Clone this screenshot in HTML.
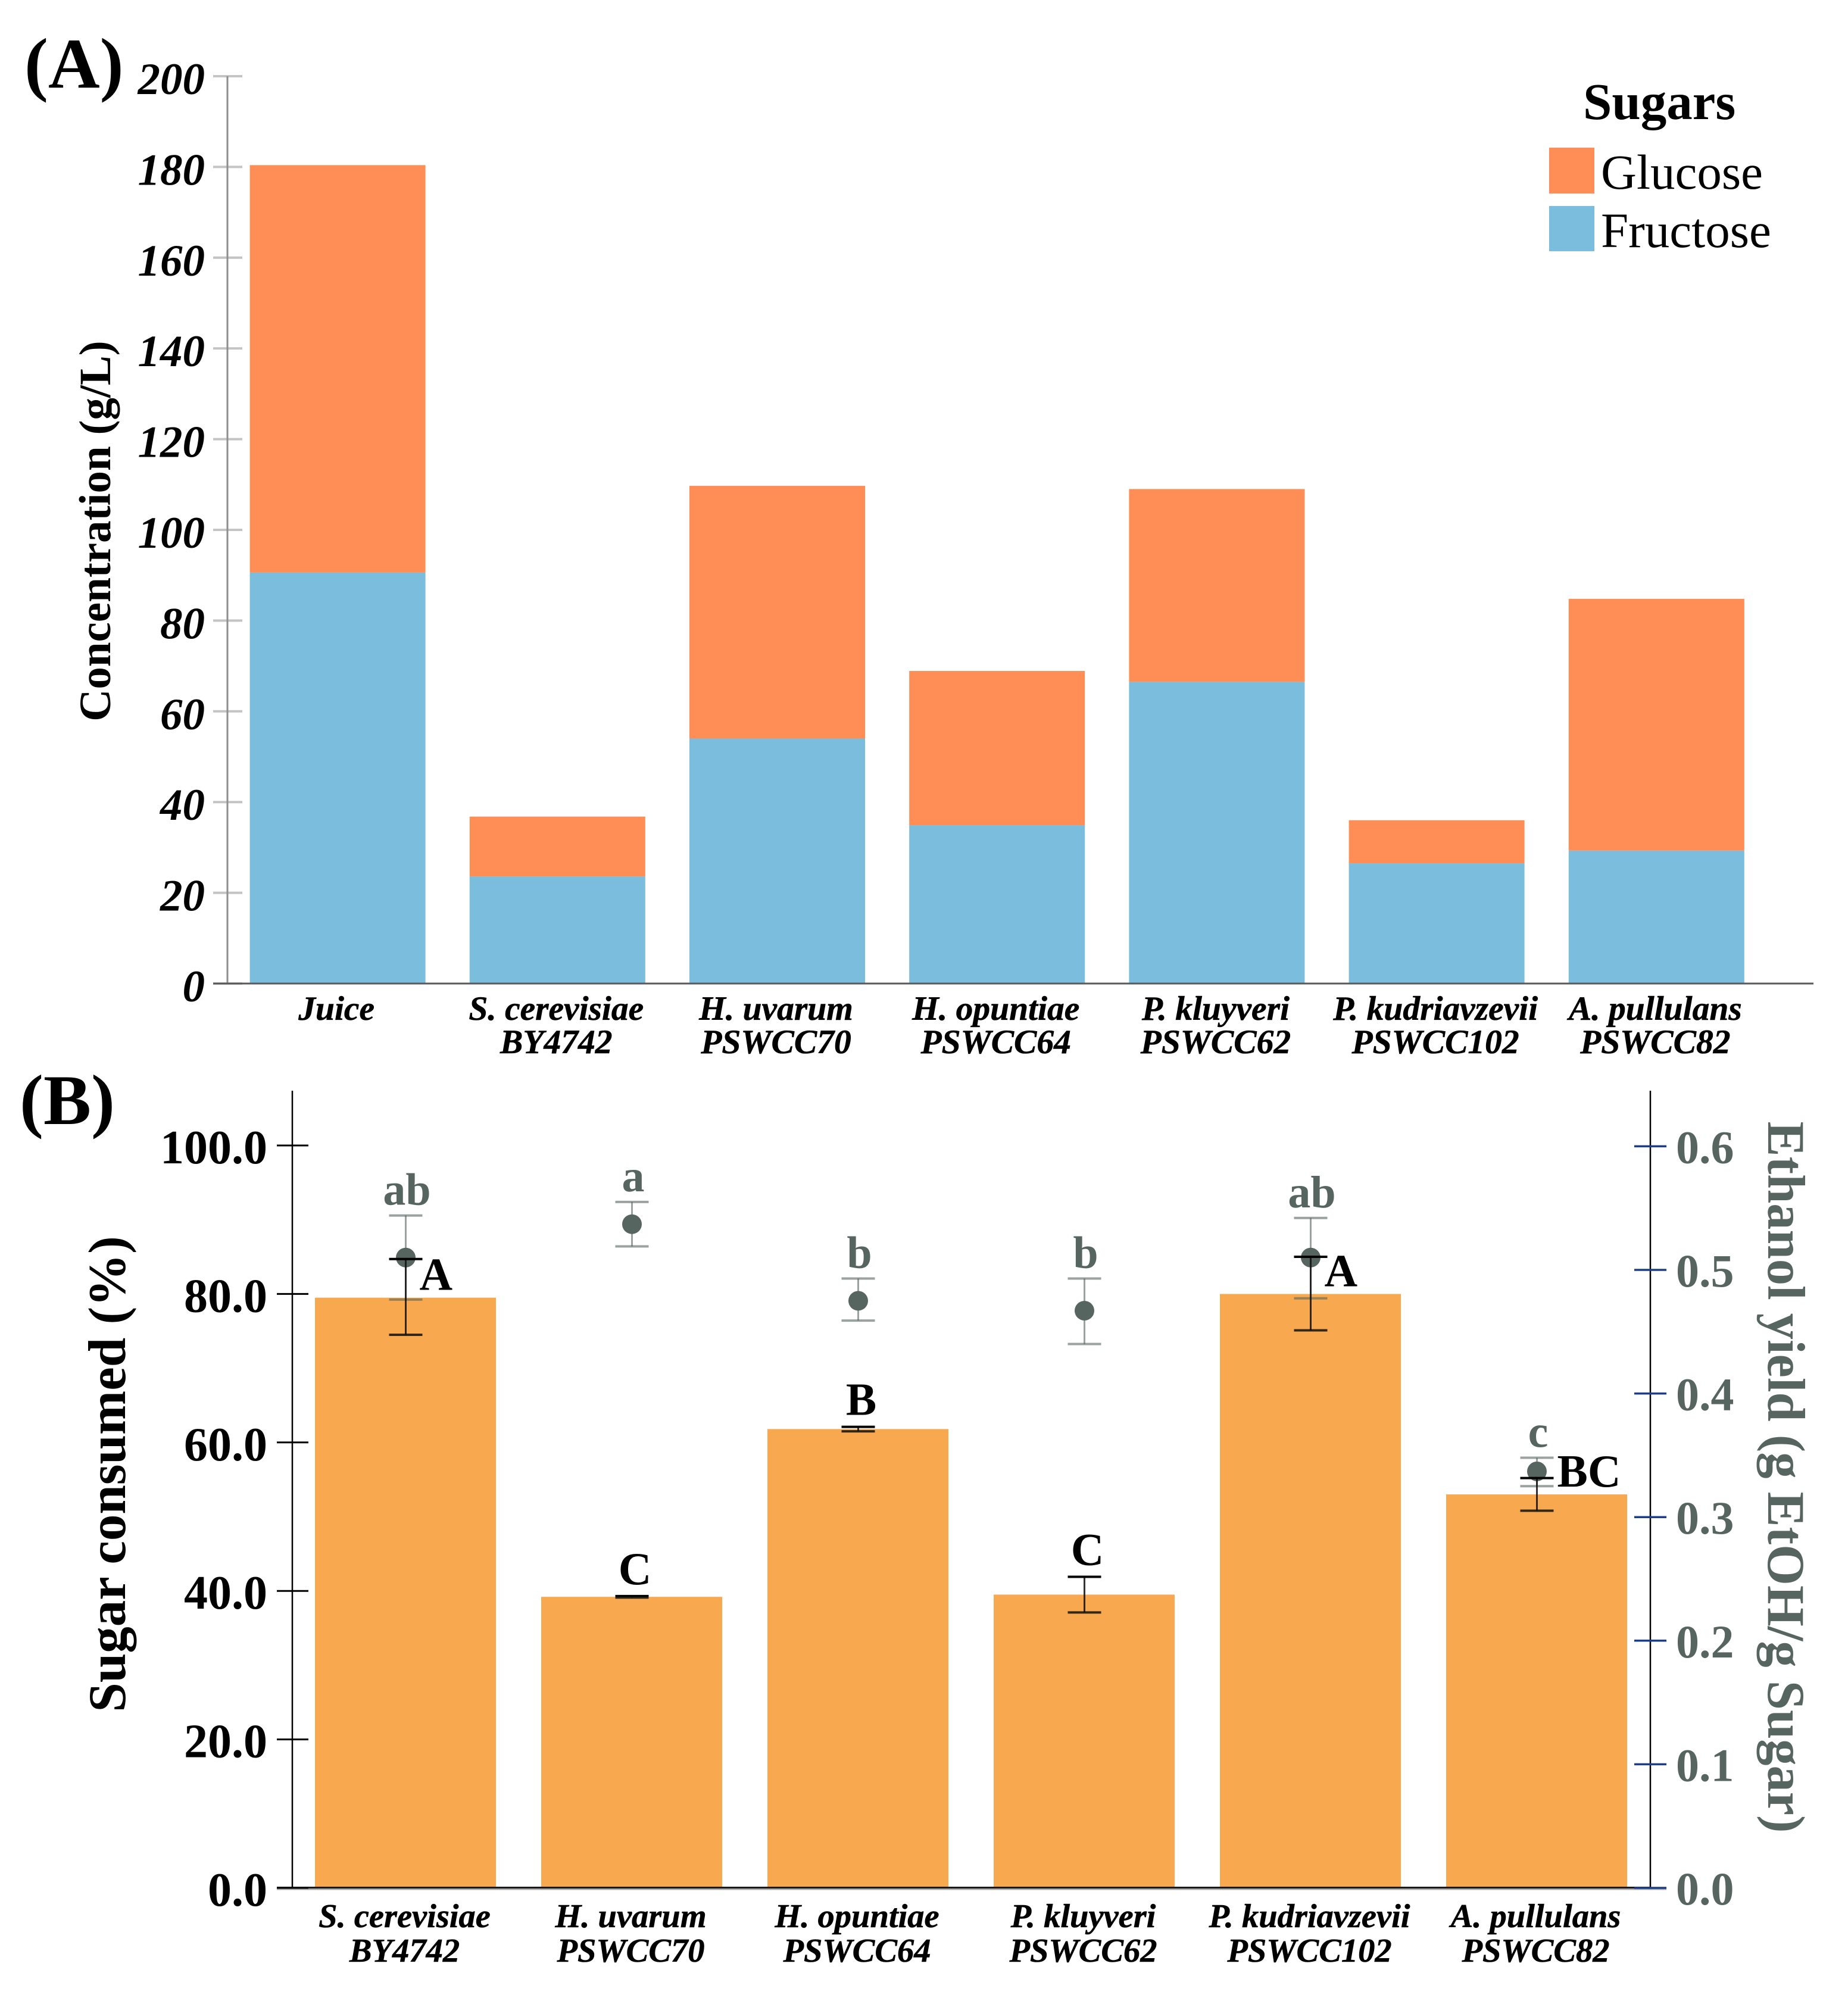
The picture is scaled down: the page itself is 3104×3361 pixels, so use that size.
<!DOCTYPE html>
<html lang="en">
<head>
<meta charset="utf-8">
<title>Sugar concentration, sugar consumption and ethanol yield</title>
<style>
html,body{margin:0;padding:0;background:#fff;}
svg{display:block;font-family:"Liberation Serif",serif;}
</style>
</head>
<body>
<svg id="figure" xmlns="http://www.w3.org/2000/svg" width="3104" height="3361" viewBox="0 0 3104 3361">
  <rect x="0" y="0" width="3104" height="3361" fill="#ffffff"/>
  <g id="panelA"></g>
  <g id="panelB"></g>

  <text x="41" y="147" font-size="120" font-weight="bold">(A)</text>
  <text x="33" y="1888" font-size="120" font-weight="bold">(B)</text>

  <text transform="translate(185 892) rotate(-90)" text-anchor="middle" font-size="75" font-weight="bold">Concentration (g/L)</text>
  <text transform="translate(210 2476) rotate(-90)" text-anchor="middle" font-size="89" font-weight="bold">Sugar consumed (%)</text>
  <text transform="translate(2970 2481) rotate(90)" text-anchor="middle" font-size="88.5" font-weight="bold" fill="#56655f">Ethanol yield (g EtOH/g Sugar)</text>

  <g>
    <text x="2659" y="200" font-size="87" font-weight="bold">Sugars</text>
    <rect x="2602" y="248" width="76" height="77" fill="#ff8d56"/>
    <text x="2689" y="317" font-size="83">Glucose</text>
    <rect x="2602" y="346" width="76" height="76" fill="#7abddc"/>
    <text x="2689" y="415" font-size="83">Fructose</text>
  </g>
</svg>
<script>
// Panel A data
const categoriesA = [["Juice"],["S. cerevisiae","BY4742"],["H. uvarum","PSWCC70"],["H. opuntiae","PSWCC64"],["P. kluyveri","PSWCC62"],["P. kudriavzevii","PSWCC102"],["A. pullulans","PSWCC82"]];
const fructose = [90.6, 23.6, 54.0, 34.9, 66.5, 26.5, 29.3];
const glucose = [89.8, 13.2, 55.7, 34.0, 42.5, 9.5, 55.5];
const ticksA = [0, 20, 40, 60, 80, 100, 120, 140, 160, 180, 200];

// Panel B data
const categoriesB = [["S. cerevisiae","BY4742"],["H. uvarum","PSWCC70"],["H. opuntiae","PSWCC64"],["P. kluyveri","PSWCC62"],["P. kudriavzevii","PSWCC102"],["A. pullulans","PSWCC82"]];
const sugarConsumed = [79.5, 39.2, 61.8, 39.5, 80.0, 53.0];
const sugarHigh = [84.7, 39.3, 62.1, 41.9, 85.0, 55.2];
const sugarLow = [74.5, 39.1, 61.5, 37.1, 75.1, 50.8];
const sugarLetters = ["A", "C", "B", "C", "A", "BC"];
const ethanolYield = [0.510, 0.537, 0.475, 0.467, 0.510, 0.337];
const ethanolHigh = [0.544, 0.555, 0.493, 0.493, 0.542, 0.348];
const ethanolLow = [0.476, 0.519, 0.459, 0.440, 0.477, 0.325];
const ethanolLetters = ["ab", "a", "b", "b", "ab", "c"];
const ticksBLeft = [0, 20, 40, 60, 80, 100];
const ticksBRight = [0, 0.1, 0.2, 0.3, 0.4, 0.5, 0.6];

const NS = "http://www.w3.org/2000/svg";
const panelA = document.getElementById("panelA");
const panelB = document.getElementById("panelB");

function make(tag, parent, attrs, content) {
  const node = document.createElementNS(NS, tag);
  for (const key in attrs) node.setAttribute(key, attrs[key]);
  if (content !== undefined) node.textContent = content;
  parent.appendChild(node);
  return node;
}

// Axis functions
const yA = v => 1652 - v * 7.62;
const xA = i => 419.6 + i * 369.2;
const barWidthA = 295;
const yL = v => 3171 - v * 12.47;
const yR = v => 3171 - v * 2076;
const xB = i => 529 + i * 380;
const barWidthB = 304;
const PLOT_GREEN = "#56655f";

// ---- Panel A ----
ticksA.forEach(t => {
  let el = make("line", panelA, {x1: 358, x2: 407, y1: yA(t), y2: yA(t), stroke: "#c4c4c4", "stroke-width": 4});
  
  
  el = make("text", panelA, {x: 344, y: yA(t) + 30, "text-anchor": "end", "font-size": 75, "font-weight": "bold", "font-style": "italic"}, String(t));
  
  
});

let axisA = make("line", panelA, {x1: 382, x2: 382, y1: yA(200), y2: yA(0), stroke: "#8e8e8e", "stroke-width": 3});



categoriesA.forEach((cat, i) => {
  const total = fructose[i] + glucose[i];
  let el = make("rect", panelA, {x: xA(i), y: yA(fructose[i]), width: barWidthA, height: yA(0) - yA(fructose[i]), fill: "#7abddc"});
  
  
  el = make("rect", panelA, {x: xA(i), y: yA(total), width: barWidthA, height: yA(fructose[i]) - yA(total), fill: "#ff8d56"});
  
  
  cat.forEach((line, k) => {
    const label = make("text", panelA, {x: xA(i) + barWidthA / 2 - 2, y: 1713 + k * 56, "text-anchor": "middle", "font-size": 57.5, "font-weight": "bold", "font-style": "italic", stroke: "#000000", "stroke-width": 0.6}, line);
    
    
  });
});

let baseA = make("line", panelA, {x1: 358, x2: 3046, y1: yA(0), y2: yA(0), stroke: "#5a5a5a", "stroke-width": 3});



// ---- Panel B ----
categoriesB.forEach((cat, i) => {
  const el = make("rect", panelB, {x: xB(i), y: yL(sugarConsumed[i]), width: barWidthB, height: yL(0) - yL(sugarConsumed[i]), fill: "#f8a84e"});
  
  
});

// Ethanol yield points and error bars
categoriesB.forEach((cat, i) => {
  const cx = xB(i) + barWidthB / 2 + 0.5;
  let el = make("line", panelB, {x1: cx, x2: cx, y1: yR(ethanolHigh[i]), y2: yR(ethanolLow[i]), stroke: PLOT_GREEN, "stroke-opacity": 0.6, "stroke-width": 3});
  
  
  el = make("line", panelB, {x1: cx - 28, x2: cx + 28, y1: yR(ethanolHigh[i]), y2: yR(ethanolHigh[i]), stroke: PLOT_GREEN, "stroke-opacity": 0.6, "stroke-width": 4});
  
  
  el = make("line", panelB, {x1: cx - 28, x2: cx + 28, y1: yR(ethanolLow[i]), y2: yR(ethanolLow[i]), stroke: PLOT_GREEN, "stroke-opacity": 0.6, "stroke-width": 4});
  
  
  el = make("circle", panelB, {cx: cx, cy: yR(ethanolYield[i]), r: 16.5, fill: PLOT_GREEN});
  
  
  el = make("text", panelB, {x: cx + 2, y: yR(ethanolHigh[i]) - 18, "text-anchor": "middle", "font-size": 76, "font-weight": "bold", fill: PLOT_GREEN}, ethanolLetters[i]);
  
  
});

// Sugar consumed error bars and letters
categoriesB.forEach((cat, i) => {
  const cx = xB(i) + barWidthB / 2 + 0.5;
  let el = make("line", panelB, {x1: cx, x2: cx, y1: yL(sugarHigh[i]), y2: yL(sugarLow[i]), stroke: "#111111", "stroke-opacity": 0.85, "stroke-width": 3});
  
  
  el = make("line", panelB, {x1: cx - 28, x2: cx + 28, y1: yL(sugarHigh[i]), y2: yL(sugarHigh[i]), stroke: "#000000", "stroke-width": 4});
  
  
  el = make("line", panelB, {x1: cx - 28, x2: cx + 28, y1: yL(sugarLow[i]), y2: yL(sugarLow[i]), stroke: "#111111", "stroke-opacity": 0.85, "stroke-width": 4});
  
  
  // A letter sits beside the error bar when the ethanol point would collide with it
  const beside = Math.abs(yR(ethanolYield[i]) - yL(sugarHigh[i])) < 40;
  const attrs = beside
    ? {x: cx + 12 + 11 * sugarLetters[i].length, y: yL(sugarConsumed[i]) - 13, "text-anchor": "start"}
    : {x: cx + 5, y: yL(sugarHigh[i]) - 20, "text-anchor": "middle"};
  attrs["font-size"] = 77;
  attrs["font-weight"] = "bold";
  el = make("text", panelB, attrs, sugarLetters[i]);
  
  
  cat.forEach((line, k) => {
    const label = make("text", panelB, {x: cx - 2, y: 3237 + k * 58, "text-anchor": "middle", "font-size": 56.5, "font-weight": "bold", "font-style": "italic", stroke: "#000000", "stroke-width": 0.6}, line);
    
    
  });
});

// Axes for panel B
let baseShadow = make("line", panelB, {x1: 465, x2: 2799, y1: 3173, y2: 3173, stroke: "#a8a8a8", "stroke-width": 3});


let baseB = make("line", panelB, {x1: 465, x2: 2772, y1: 3170.5, y2: 3170.5, stroke: "#1a1a1a", "stroke-width": 3});


let leftAxis = make("line", panelB, {x1: 491, x2: 491, y1: 1832, y2: 3171, stroke: "#000000", "stroke-width": 2.5});


let rightAxis = make("line", panelB, {x1: 2772, x2: 2772, y1: 1832, y2: 3171, stroke: "#000000", "stroke-width": 2.5});



ticksBLeft.forEach(t => {
  let el = make("line", panelB, {x1: 465, x2: 518, y1: yL(t), y2: yL(t), stroke: "#000000", "stroke-width": 3});
  
  
  el = make("text", panelB, {x: 449, y: yL(t) + 30, "text-anchor": "end", "font-size": 80, "font-weight": "bold"}, t.toFixed(1));
  
  
});

ticksBRight.forEach(t => {
  let el = make("line", panelB, {x1: 2745, x2: 2799, y1: yR(t), y2: yR(t), stroke: "#1c3c8c", "stroke-width": 3.5});
  
  
  el = make("text", panelB, {x: 2815, y: yR(t) + 28, "text-anchor": "start", "font-size": 78, "font-weight": "bold", fill: PLOT_GREEN}, t.toFixed(1));
  
  
});
</script>
</body>
</html>
